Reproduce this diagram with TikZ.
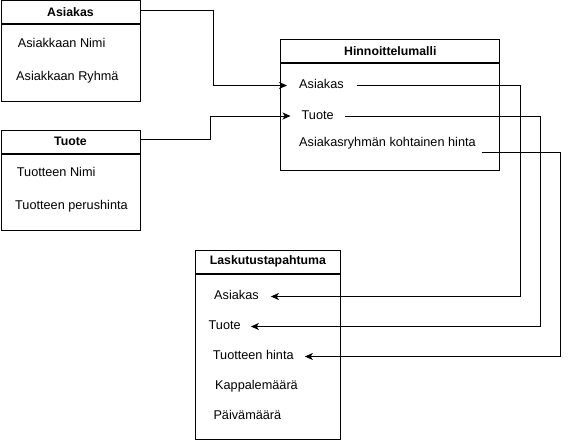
\documentclass[tikz,border=0pt]{standalone}
\usepackage{fontspec}
\setmainfont{Liberation Sans}
\usetikzlibrary{arrows.meta,positioning}

\begin{document}
\begin{tikzpicture}[
    x=1pt, y=-1pt,
    head/.style={draw, line width=1pt, minimum height=23pt, inner sep=0pt,
                 font=\fontsize{12.3}{14}\selectfont\bfseries},
    body/.style={draw, line width=1pt, inner sep=0pt},
    item/.style={anchor=west, inner sep=0pt, text height=8.8pt, text depth=2.4pt,
                 font=\fontsize{12.7}{14}\selectfont},
    arr/.style={-{Stealth[length=8pt, width=7pt, inset=2.2pt]}, line width=1pt},
    node distance=0pt
  ]
    \useasboundingbox (0,0) rectangle (569,441);

    % --- Left: Asiakas, Tuote ---
    \node[head, minimum width=139pt] (asHead) at (70.5,12.5) {Asiakas};
    \node[body, minimum width=139pt, minimum height=76pt, below=of asHead] (asBody) {};
    \node[item] (asNimi) at (17.7,44.5) {Asiakkaan Nimi};
    \node[item] (asRyhma) at (16,77) {Asiakkaan Ryhmä};

    \node[head, minimum width=139pt] (tuHead) at (70.5,141.5) {Tuote};
    \node[body, minimum width=139pt, minimum height=76pt, below=of tuHead] (tuBody) {};
    \node[item] (tuNimi) at (16.7,173) {Tuotteen Nimi};
    \node[item] (tuHinta) at (15,206.5) {Tuotteen perushinta};

    % --- Right: Hinnoittelumalli ---
    \node[head, minimum width=219.3pt] (hmHead) at (390.3,51.5) {Hinnoittelumalli};
    \node[body, minimum width=219.3pt, minimum height=106.3pt, below=of hmHead] (hmBody) {};
    \node[item] (hmAs) at (299,85.5) {Asiakas};
    \node[item] (hmTu) at (301.5,116) {Tuote};
    \node[item] (hmHinta) at (299,143) {Asiakasryhmän kohtainen hinta};

    % --- Bottom: Laskutustapahtuma ---
    \node[head, minimum width=145.7pt] (ltHead) at (267.9,261.5) {Laskutustapahtuma};
    \node[body, minimum width=145.7pt, minimum height=165pt, below=of ltHead] (ltBody) {};
    \node[item] (ltAs) at (214,296.5) {Asiakas};
    \node[item] (ltTu) at (208.5,326.5) {Tuote};
    \node[item] (ltHinta) at (212.7,356.5) {Tuotteen hinta};
    \node[item] (ltKpl) at (215,386.5) {Kappalemäärä};
    \node[item] (ltPvm) at (213.3,416) {Päivämäärä};

    % --- Connectors ---
    \coordinate (bendAs) at (213,0);
    \coordinate (bendTu) at (210,0);
    \coordinate (bendA) at (520,0);
    \coordinate (bendB) at (540.5,0);
    \coordinate (bendC) at (560.5,0);

    \draw[arr] ([yshift=1.5pt]asHead.east) -| (bendAs |- hmAs.west) -- ([xshift=-12pt]hmAs.west);
    \draw[arr] ([yshift=2pt]tuHead.east) -| (bendTu |- hmTu.west) -- ([xshift=-11pt]hmTu.west);

    \draw[arr] ([xshift=13pt]hmAs.east) -| (bendA |- ltAs.east) -- ([xshift=12pt]ltAs.east);
    \draw[arr] ([xshift=11pt]hmTu.east) -| (bendB |- ltTu.east) -- ([xshift=10pt]ltTu.east);
    \draw[arr] ([shift={(6pt,-9pt)}]hmHinta.east) -| (bendC |- ltHinta.east) -- ([xshift=11pt]ltHinta.east);
  \end{tikzpicture}
\end{document}
